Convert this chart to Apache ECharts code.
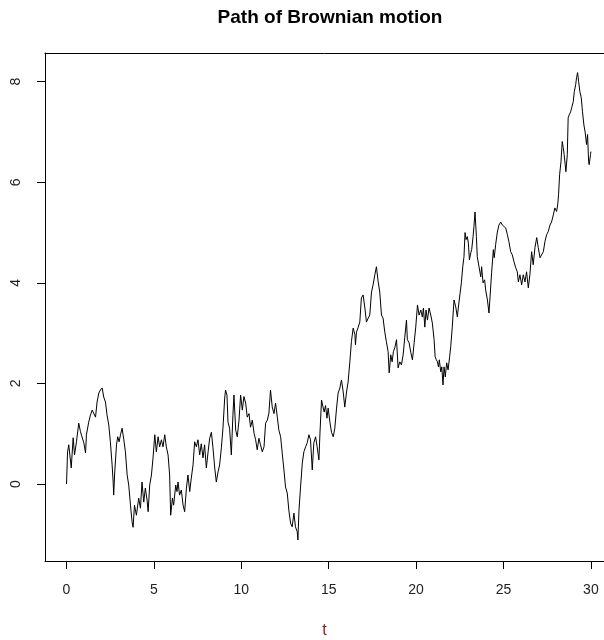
<!DOCTYPE html>
<html>
<head>
<meta charset="utf-8">
<script src="https://cdn.jsdelivr.net/npm/echarts@6/dist/echarts.min.js"></script>
<style>
  html, body { margin: 0; padding: 0; background: #fff; }
  #pathChart { width: 604px; height: 640px; }
</style>
</head>
<body>
<div id="pathChart"></div>
<script>
// path: [t, value]
var pathPoints = [
  [0, 0.00], [0.06, 0.64], [0.13, 0.78], [0.27, 0.32], [0.38, 0.92], [0.46, 0.58], [0.57, 0.84], [0.70, 1.21],
  [0.80, 1.04], [0.99, 0.82], [1.09, 0.62], [1.14, 0.98], [1.27, 1.23], [1.37, 1.37], [1.47, 1.47], [1.56, 1.44],
  [1.66, 1.33], [1.75, 1.63], [1.85, 1.81], [1.94, 1.87], [2.04, 1.91], [2.13, 1.73], [2.23, 1.63], [2.32, 1.37],
  [2.42, 1.17], [2.51, 0.84], [2.61, 0.38], [2.67, 0.04], [2.70, -0.22], [2.76, 0.24], [2.86, 0.78], [2.93, 0.94],
  [3.01, 0.84], [3.09, 0.98], [3.18, 1.11], [3.28, 0.88], [3.37, 0.64], [3.47, 0.18], [3.56, -0.02], [3.66, -0.42],
  [3.75, -0.75], [3.81, -0.86], [3.89, -0.42], [4.00, -0.62], [4.13, -0.28], [4.23, -0.48], [4.32, 0.04], [4.42, -0.36],
  [4.51, -0.08], [4.61, -0.32], [4.67, -0.55], [4.76, -0.02], [4.86, 0.18], [4.95, 0.52], [5.05, 0.98], [5.14, 0.64],
  [5.24, 0.94], [5.33, 0.74], [5.43, 0.88], [5.52, 0.74], [5.62, 0.98], [5.71, 0.74], [5.81, 0.58], [5.90, 0.18],
  [5.96, -0.62], [6.06, -0.28], [6.13, -0.42], [6.25, -0.02], [6.32, -0.15], [6.38, 0.04], [6.47, -0.22], [6.57, -0.12],
  [6.67, -0.42], [6.76, -0.55], [6.86, -0.08], [6.95, 0.18], [7.05, -0.15], [7.14, 0.12], [7.24, 0.38], [7.33, 0.84],
  [7.43, 0.74], [7.52, 0.88], [7.62, 0.58], [7.71, 0.80], [7.81, 0.52], [7.90, 0.78], [8.00, 0.32], [8.10, 0.64],
  [8.19, 0.91], [8.29, 1.03], [8.38, 0.72], [8.48, 0.32], [8.57, 0.04], [8.67, 0.24], [8.76, 0.38], [8.86, 0.72],
  [8.95, 1.11], [9.05, 1.71], [9.10, 1.87], [9.18, 1.77], [9.24, 1.23], [9.33, 1.11], [9.43, 0.58], [9.52, 1.37],
  [9.58, 1.77], [9.68, 1.07], [9.77, 0.94], [9.87, 1.27], [9.96, 1.77], [10.06, 1.47], [10.15, 1.74], [10.25, 1.61],
  [10.34, 1.33], [10.44, 1.40], [10.53, 1.13], [10.63, 1.27], [10.73, 1.01], [10.82, 0.88], [10.91, 0.68], [11.01, 0.91],
  [11.10, 0.78], [11.20, 0.64], [11.30, 0.74], [11.39, 1.21], [11.49, 1.27], [11.58, 1.41], [11.67, 1.87], [11.77, 1.53],
  [11.87, 1.40], [11.96, 1.61], [12.06, 1.33], [12.15, 1.07], [12.25, 0.94], [12.34, 0.62], [12.44, 0.28], [12.53, -0.06],
  [12.63, -0.18], [12.72, -0.52], [12.82, -0.78], [12.91, -0.85], [13.01, -0.58], [13.10, -0.85], [13.20, -0.95], [13.24, -1.11],
  [13.30, -0.52], [13.39, -0.06], [13.49, 0.42], [13.58, 0.64], [13.68, 0.74], [13.77, 0.82], [13.87, 0.98], [13.96, 0.88],
  [14.06, 0.28], [14.15, 0.82], [14.25, 0.94], [14.34, 0.74], [14.44, 0.48], [14.50, 1.01], [14.59, 1.67], [14.74, 1.43],
  [14.82, 1.56], [14.90, 1.31], [14.97, 1.51], [15.07, 1.23], [15.16, 1.03], [15.26, 0.94], [15.35, 1.11], [15.45, 1.51],
  [15.54, 1.81], [15.64, 1.91], [15.73, 2.07], [15.83, 1.83], [15.92, 1.53], [16.02, 1.83], [16.11, 2.03], [16.21, 2.43],
  [16.30, 2.83], [16.40, 3.10], [16.50, 2.97], [16.53, 2.77], [16.59, 3.02], [16.69, 3.12], [16.78, 3.22], [16.87, 3.70],
  [16.97, 3.76], [17.07, 3.50], [17.16, 3.22], [17.26, 3.30], [17.35, 3.36], [17.45, 3.82], [17.54, 3.96], [17.64, 4.16],
  [17.73, 4.32], [17.83, 4.02], [17.92, 3.82], [18.02, 3.36], [18.11, 3.30], [18.21, 3.02], [18.30, 2.83], [18.40, 2.63],
  [18.46, 2.21], [18.55, 2.57], [18.63, 2.43], [18.70, 2.63], [18.78, 2.71], [18.88, 2.87], [18.97, 2.31], [19.07, 2.43],
  [19.16, 2.37], [19.26, 2.57], [19.35, 2.91], [19.45, 3.26], [19.50, 2.87], [19.60, 2.81], [19.70, 2.61], [19.79, 2.47],
  [19.89, 2.81], [19.98, 3.12], [20.08, 3.56], [20.17, 3.36], [20.27, 3.46], [20.36, 3.32], [20.42, 3.50], [20.50, 3.12],
  [20.57, 3.46], [20.65, 3.26], [20.74, 3.50], [20.84, 3.36], [20.93, 3.20], [21.03, 2.87], [21.09, 2.53], [21.16, 2.47],
  [21.22, 2.43], [21.28, 2.33], [21.33, 2.47], [21.41, 2.23], [21.47, 2.33], [21.54, 1.97], [21.60, 2.33], [21.67, 2.13],
  [21.75, 2.41], [21.83, 2.27], [21.92, 2.53], [21.98, 2.73], [22.07, 3.12], [22.17, 3.66], [22.27, 3.52], [22.36, 3.32],
  [22.42, 3.52], [22.59, 4.00], [22.67, 4.32], [22.74, 4.52], [22.80, 5.00], [22.86, 4.86], [22.93, 4.92], [22.99, 4.79],
  [23.05, 4.46], [23.13, 4.60], [23.18, 4.66], [23.26, 4.92], [23.31, 5.12], [23.37, 5.41], [23.45, 4.92], [23.50, 4.52],
  [23.60, 4.32], [23.70, 4.12], [23.75, 4.32], [23.83, 4.00], [23.92, 4.06], [23.98, 3.86], [24.08, 3.66], [24.17, 3.40],
  [24.23, 3.72], [24.32, 4.20], [24.42, 4.66], [24.47, 4.50], [24.55, 4.76], [24.65, 5.01], [24.74, 5.15], [24.84, 5.21],
  [24.93, 5.15], [25.03, 5.18], [25.13, 5.09], [25.22, 4.96], [25.31, 4.82], [25.41, 4.62], [25.50, 4.56], [25.60, 4.42],
  [25.70, 4.30], [25.79, 4.22], [25.85, 4.02], [25.94, 4.16], [26.04, 3.96], [26.13, 4.16], [26.23, 4.02], [26.32, 4.22],
  [26.42, 3.90], [26.51, 4.16], [26.61, 4.62], [26.70, 4.36], [26.80, 4.70], [26.90, 4.90], [26.99, 4.70], [27.09, 4.50],
  [27.18, 4.53], [27.28, 4.62], [27.37, 4.82], [27.47, 4.96], [27.56, 5.02], [27.66, 5.15], [27.75, 5.21], [27.85, 5.35],
  [27.94, 5.49], [28.04, 5.42], [28.10, 5.55], [28.15, 5.75], [28.21, 6.15], [28.29, 6.41], [28.36, 6.81], [28.42, 6.69],
  [28.47, 6.55], [28.53, 6.35], [28.57, 6.21], [28.65, 6.55], [28.70, 7.28], [28.76, 7.34], [28.84, 7.40], [28.90, 7.48],
  [28.99, 7.60], [29.05, 7.80], [29.13, 7.94], [29.18, 8.08], [29.24, 8.18], [29.30, 8.00], [29.37, 7.80], [29.45, 7.68],
  [29.52, 7.40], [29.60, 7.14], [29.67, 7.00], [29.75, 6.75], [29.81, 6.95], [29.87, 6.41], [29.90, 6.35], [29.98, 6.55],
  [30.00, 6.61]
];

var xTicks = [0, 5, 10, 15, 20, 25, 30];
var yTicks = [0, 2, 4, 6, 8];

var chartTitle = 'Path of Brownian motion';
var xLabel = 't';

(function () {
  var chart = echarts.init(document.getElementById('pathChart'), null, {renderer: 'canvas'});
  var font = '"Liberation Sans", Arial, sans-serif';

  var option = {
    backgroundColor: '#fff',
    animation: false,
    title: {
      text: chartTitle,
      left: 325,
      top: 3,
      textAlign: 'center',
      textStyle: {
        fontFamily: font,
        fontSize: 19,
        fontWeight: 'bold',
        color: '#000'
      }
    },
    grid: {
      left: 45,
      top: 53,
      width: 559,
      height: 508,
      outerBoundsMode: 'none',
      containLabel: false
    },
    xAxis: [
      {
        type: 'value',
        position: 'bottom',
        min: -1.23,
        max: 30.75,
        name: xLabel,
        nameLocation: 'middle',
        nameGap: 62,
        nameTextStyle: {fontFamily: font, fontSize: 16, color: '#8b1a1a'},
        axisLine: {show: true, onZero: false, lineStyle: {color: '#000', width: 1}},
        splitLine: {show: false},
        axisTick: {show: true, length: 8, customValues: xTicks, lineStyle: {color: '#000'}},
        axisLabel: {
          customValues: xTicks,
          margin: 22,
          fontFamily: font,
          fontSize: 14,
          color: '#222'
        }
      },
      {
        // top edge of the box
        type: 'value',
        position: 'top',
        min: -1.23,
        max: 30.75,
        axisLine: {show: true, onZero: false, lineStyle: {color: '#000', width: 1}},
        axisTick: {show: false},
        axisLabel: {show: false},
        splitLine: {show: false}
      }
    ],
    yAxis: {
      type: 'value',
      min: -1.53,
      max: 8.57,
      axisLine: {show: true, onZero: false, lineStyle: {color: '#000', width: 1}},
      splitLine: {show: false},
      axisTick: {show: true, length: 8, customValues: yTicks, lineStyle: {color: '#000'}},
      axisLabel: {
        customValues: yTicks,
        rotate: 90,
        margin: 22,
        fontFamily: font,
        fontSize: 14,
        color: '#222'
      }
    },
    series: [
      {
        type: 'line',
        xAxisIndex: 0,
        data: pathPoints,
        showSymbol: false,
        symbol: 'none',
        lineStyle: {color: '#000', width: 1},
        clip: true
      }
    ]
  };

  chart.setOption(option);
})();
</script>
</body>
</html>
